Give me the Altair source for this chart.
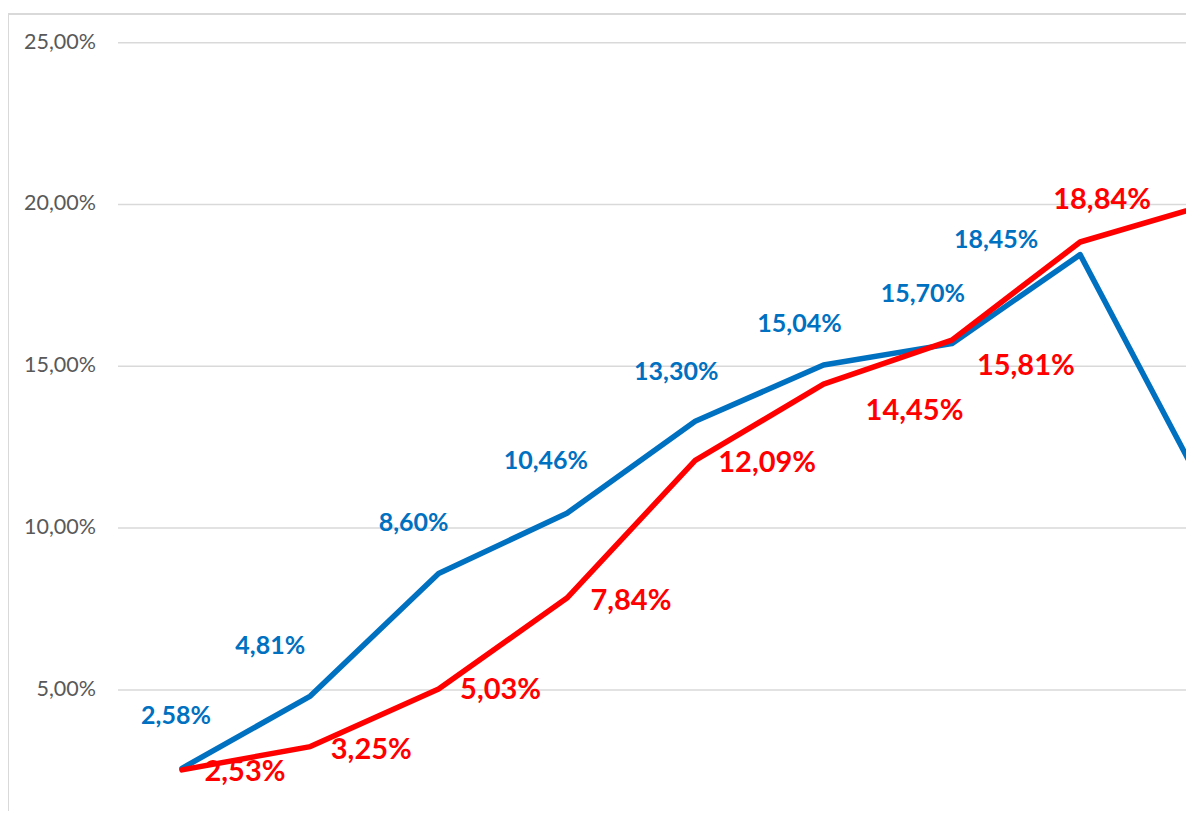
import altair as alt
import pandas as pd

# ---- data ----
idx = [0, 1, 2, 3, 4, 5, 6, 7, 8]
blue_values = [2.58, 4.81, 8.60, 10.46, 13.30, 15.04, 15.70, 18.45, 10.94]
red_values = [2.53, 3.25, 5.03, 7.84, 12.09, 14.45, 15.81, 18.84, 20.01]
y_ticks = [5, 10, 15, 20, 25]

# label placement (pixel offsets from each point), styling only
blue_label_dx = [-6, -40, -25, -21, -19, -24, -29, -84]
blue_label_dy = [-52, -50, -50, -52, -49, -41, -50, -15]
red_label_dx = [63, 61, 62, 64, 72, 91, 74, 22]
red_label_dy = [2, 3, 1, 3, 3, 27, 26, -42]

BLUE = "#0070C0"
RED = "#FF0000"
W, H = 1178, 803

def pct(v):
    return f"{v:.2f}".replace(".", ",") + "%"

df = pd.DataFrame({
    "i": idx * 2,
    "v": blue_values + red_values,
    "s": ["blue"] * len(idx) + ["red"] * len(idx),
})

xs = alt.Scale(domain=[-1.356, 7.825], nice=False, zero=False)
ys = alt.Scale(domain=[1.26, 26.07], nice=False, zero=False)

ticks_df = pd.DataFrame({"t": y_ticks, "lab": [pct(t) for t in y_ticks]})

grid = alt.Chart(ticks_df).mark_rule(color="#d9d9d9", strokeWidth=1.5).encode(
    y=alt.Y("t:Q", scale=ys, axis=None),
    x=alt.value(110), x2=alt.value(W),
)
ylabels = alt.Chart(ticks_df).mark_text(
    align="right", baseline="middle", font="Lato", fontSize=21.5, color="#595959"
).encode(
    y=alt.Y("t:Q", scale=ys, axis=None),
    x=alt.value(88),
    text="lab:N",
)

border_top = alt.Chart(ticks_df).mark_rule(color="#d9d9d9", strokeWidth=2).encode(
    x=alt.value(0), x2=alt.value(W), y=alt.value(6)
)
border_left = alt.Chart(ticks_df).mark_rule(color="#d9d9d9", strokeWidth=2).encode(
    x=alt.value(0), y=alt.value(6), y2=alt.value(H)
)

def line(series, color):
    return alt.Chart(df[df.s == series]).mark_line(
        color=color, strokeWidth=5.5, clip=True, strokeJoin="round", strokeCap="round"
    ).encode(
        x=alt.X("i:Q", scale=xs, axis=None),
        y=alt.Y("v:Q", scale=ys, axis=None),
    )

layers = [border_top, border_left, grid, ylabels, line("blue", BLUE), line("red", RED)]

for vals, dxs, dys, color, size in [
    (blue_values, blue_label_dx, blue_label_dy, BLUE, 25),
    (red_values, red_label_dx, red_label_dy, RED, 29),
]:
    for k in range(len(dxs)):
        d = pd.DataFrame({"i": [idx[k]], "v": [vals[k]], "lab": [pct(vals[k])]})
        layers.append(
            alt.Chart(d).mark_text(
                font="Lato", fontWeight="bold", fontSize=size, color=color,
                align="center", baseline="middle", dx=dxs[k], dy=dys[k]
            ).encode(
                x=alt.X("i:Q", scale=xs, axis=None),
                y=alt.Y("v:Q", scale=ys, axis=None),
                text="lab:N",
            )
        )

chart = alt.layer(*layers).properties(
    width=W, height=H, padding=0, autosize=alt.AutoSizeParams(type="none"),
    background="white",
).configure_view(stroke=None)

chart.save("out.html", embed_options={"renderer": "svg", "actions": False})
